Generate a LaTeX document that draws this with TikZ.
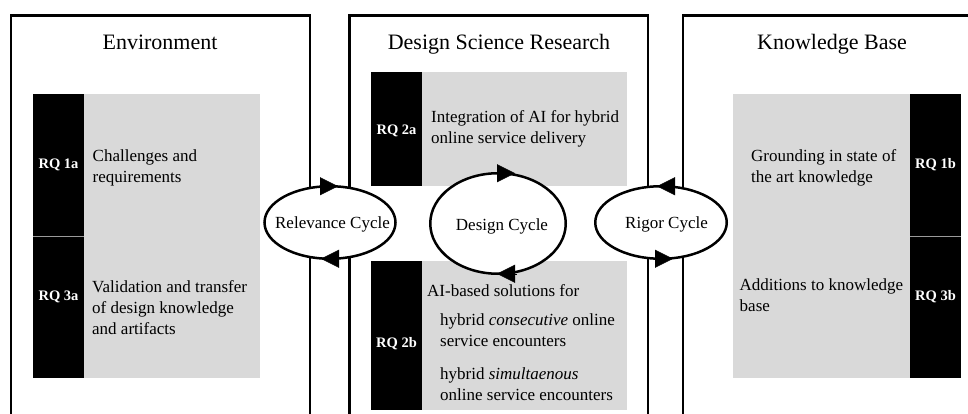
\documentclass[tikz,border=0pt]{standalone}
\usepackage{fontspec}
\setmainfont{Liberation Serif}
\usetikzlibrary{arrows.meta,shapes.geometric,calc}
\definecolor{panel}{HTML}{D9D9D9}
\definecolor{divcol}{HTML}{9A9A9A}
\tikzset{
  outerbox/.style={draw, line width=2.5pt, inner sep=0, outer sep=0, anchor=north west},
  panelbox/.style={fill=panel, draw=none, inner sep=0, outer sep=0, anchor=north west},
  rqstrip/.style={fill=black, draw=none, inner sep=0, outer sep=0, anchor=north west},
  rqlabel/.style={text=white, font=\fontsize{14.5}{17}\selectfont\bfseries, anchor=base, inner sep=0},
  body/.style={font=\fontsize{17}{21}\selectfont, align=left, anchor=west, inner sep=0},
  titletext/.style={font=\fontsize{22}{26}\selectfont, anchor=base, inner sep=0},
  cycle/.style={ellipse, draw, line width=2.5pt, fill=white, inner sep=0, outer sep=0},
  cyclabel/.style={font=\fontsize{17}{21}\selectfont, anchor=base, inner sep=0},
  cycarrow/.style={line width=0.3pt, -{Triangle[length=18pt 0,width=18pt 0]}},
  divider/.style={draw=divcol, line width=0.8pt},
}
\begin{document}
\begin{tikzpicture}[x=1pt,y=-1pt]
\useasboundingbox (0,0) rectangle (968,414);
\clip (0,0) rectangle (968,414);

% outer boxes
\node[outerbox, minimum width=299, minimum height=430] (env) at (11,15.5) {};
\node[outerbox, minimum width=298.3, minimum height=430] (dsr) at (349.7,15.5) {};
\node[outerbox, minimum width=300, minimum height=430] (kb) at (683,15.5) {};

% titles
\node[titletext] (envt) at (160,50) {Environment};
\node[titletext] (dsrt) at (499,50) {Design Science Research};
\node[titletext] (kbt) at (832,50) {Knowledge Base};

% Environment panel
\node[panelbox, minimum width=227, minimum height=284] (envp) at (33,94) {};
\node[rqstrip, minimum width=51, minimum height=284] (envs) at (33,94) {};
\draw[divider] (envs.west |- 0,236) -- (envs.east |- 0,236);
\node[rqlabel] (rq1a) at (58.5,168) {RQ 1a};
\node[rqlabel] (rq3a) at (58.5,300) {RQ 3a};
\node[body] (envtx1) at (92.5,167.5) {Challenges and\\requirements};
\node[body] (envtx2) at (92,307.5) {Validation and transfer\\of design knowledge\\and artifacts};

% DSR panels
\node[panelbox, minimum width=256, minimum height=114] (dsrp1) at (371,72) {};
\node[rqstrip, minimum width=51, minimum height=114] (dsrs1) at (371,72) {};
\node[panelbox, minimum width=256, minimum height=149] (dsrp2) at (371,261) {};
\node[rqstrip, minimum width=51, minimum height=149] (dsrs2) at (371,261) {};
\node[rqlabel] (rq2a) at (396.5,135) {RQ 2a};
\node[rqlabel] (rq2b) at (396.5,347) {RQ 2b};
\node[body] (dsrtx1) at (431,128.5) {Integration of AI for hybrid\\online service delivery};
\node[body, anchor=base west] (dsrtx2) at (427,296) {AI-based solutions for};
\node[body] (dsrtx3) at (440,330.5) {hybrid \textit{consecutive} online\\service encounters};
\node[body] (dsrtx4) at (440,384.5) {hybrid \textit{simultaenous}\\online service encounters};

% Knowledge base panel
\node[panelbox, minimum width=228, minimum height=284] (kbp) at (733,94) {};
\node[rqstrip, minimum width=51, minimum height=284] (kbs) at (910,94) {};
\draw[divider] (kbs.west |- 0,236) -- (kbs.east |- 0,236);
\node[rqlabel] (rq1b) at (935.5,168) {RQ 1b};
\node[rqlabel] (rq3b) at (935.5,300) {RQ 3b};
\node[body] (kbtx1) at (751,167.5) {Grounding in state of\\the art knowledge};
\node[body] (kbtx2) at (739.5,294.7) {Additions to knowledge\\base};

% cycles
\node[cycle, minimum width=131, minimum height=72.5] (rel) at (330,222.5) {};
\node[cycle, minimum width=135.5, minimum height=100.5] (des) at (498,223.5) {};
\node[cycle, minimum width=131.5, minimum height=72.5] (rig) at (661,222.5) {};
\node[cyclabel] (rellab) at ($(rel)+(2.5,5.5)$) {Relevance Cycle};
\node[cyclabel] (deslab) at ($(des)+(4,6.5)$) {Design Cycle};
\node[cyclabel] (riglab) at ($(rig)+(5.5,5.5)$) {Rigor Cycle};

% arrowheads
\draw[cycarrow] ($(rel.north)+(-10,0)$) -- ($(rel.north)+(8,0)$);
\draw[cycarrow] ($(rel.south)+(8,0)$) -- ($(rel.south)+(-9,0)$);
\draw[cycarrow] ($(des.north)+(-2,0)$) -- ($(des.north)+(17,0)$);
\draw[cycarrow] ($(des.south)+(19,0)$) -- ($(des.south)+(-1,0)$);
\draw[cycarrow] ($(rig.north)+(14,0)$) -- ($(rig.north)+(-4,0)$);
\draw[cycarrow] ($(rig.south)+(-7,0)$) -- ($(rig.south)+(12,0)$);
\end{tikzpicture}
\end{document}
